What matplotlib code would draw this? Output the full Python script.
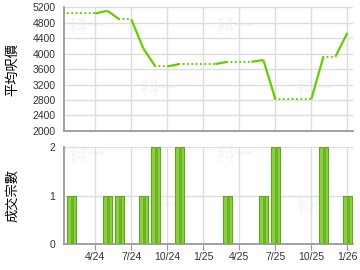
import matplotlib
matplotlib.use("Agg")
import matplotlib.pyplot as plt

# months counted from Jan 2024 (0 = 1/24)
tick_pos = [3, 6, 9, 12, 15, 18, 21, 24]
tick_labels = ["4/24", "7/24", "10/24", "1/25", "4/25", "7/25", "10/25", "1/26"]

price_months = [0, 3, 4, 5, 6, 7, 8, 9, 10, 13, 14, 16, 17, 18, 21, 22, 23, 24]
price_values = [5040, 5040, 5110, 4890, 4890, 4135, 3670, 3670, 3730, 3730,
                3790, 3790, 3835, 2825, 2825, 3920, 3920, 4540]
# True = dotted segment (no transactions in between)
seg_dotted = [True, False, False, True, False, False, True, False, True,
              False, True, False, False, True, False, True, False]

bar_months = [1, 4, 5, 7, 8, 10, 14, 17, 18, 22, 24]
bar_counts = [1, 1, 1, 1, 2, 2, 1, 1, 2, 2, 1]

plt.rcParams["font.family"] = ["Liberation Sans", "Noto Sans CJK TC", "DejaVu Sans"]
green = "#66cc00"
grid_c = "#dddddd"
spine_c = "#999999"
xlim = (0.43, 24.48)

fig = plt.figure(figsize=(3.6, 2.7), dpi=100)
ax1 = fig.add_axes([0.179, 0.515, 0.802, 0.458])
ax2 = fig.add_axes([0.179, 0.0963, 0.802, 0.358])

def style(ax):
    for s in ("top", "right"):
        ax.spines[s].set_visible(False)
    for s in ("left", "bottom"):
        ax.spines[s].set_color(spine_c)
        ax.spines[s].set_linewidth(1.3)
    ax.set_xlim(*xlim)
    ax.set_xticks(tick_pos)
    ax.grid(True, color=grid_c, linewidth=1)
    ax.set_axisbelow(True)
    ax.tick_params(axis="y", length=0, pad=6.5, labelsize=7.5, labelcolor="#333333")
    ax.tick_params(axis="x", length=4, color=spine_c, labelsize=7.5,
                   labelcolor="#333333", pad=2)

# average price line
style(ax1)
for i, dotted in enumerate(seg_dotted):
    xs = price_months[i:i + 2]
    ys = price_values[i:i + 2]
    if dotted:
        ax1.plot(xs, ys, color=green, linewidth=1.5, linestyle=(0, (0.1, 2.0)),
                 dash_capstyle="round")
    else:
        ax1.plot(xs, ys, color=green, linewidth=1.6, solid_capstyle="butt")
ax1.set_ylim(2000, 5200)
ax1.set_yticks(range(2000, 5201, 400))
ax1.tick_params(axis="x", length=0, labelbottom=False)
ax1.set_ylabel("平均呎價", fontsize=9.5, family=["Noto Sans CJK TC"])
ax1.yaxis.set_label_coords(-0.156, 0.5)

# transaction count bars
style(ax2)
ax2.bar(bar_months, bar_counts, width=0.75, color="#8ccf45", edgecolor="#5fa815",
        linewidth=0.8, zorder=2)
ax2.bar([m + 0.1 for m in bar_months], bar_counts, width=0.2, color="#6bb522",
        linewidth=0, zorder=3)
ax2.set_ylim(0, 2)
ax2.set_yticks([0, 1, 2])
ax2.set_xticklabels(tick_labels)
ax2.set_ylabel("成交宗數", fontsize=9.5, family=["Noto Sans CJK TC"])
ax2.yaxis.set_label_coords(-0.156, 0.5)

# faint watermarks
for ax, pts in ((ax1, [(2.3, 4700), (8.3, 3100), (14.6, 4700), (21.3, 3100)]),
                (ax2, [(2.3, 1.85), (8.3, 0.8), (14.6, 1.85), (21.3, 0.8)])):
    for x, y in pts:
        ax.text(x, y, "科一", fontsize=13, color="#f6f6f6", fontweight="bold",
                family=["Noto Sans CJK TC"], ha="center", va="center", zorder=0)

fig.savefig("out.png", dpi=100)
